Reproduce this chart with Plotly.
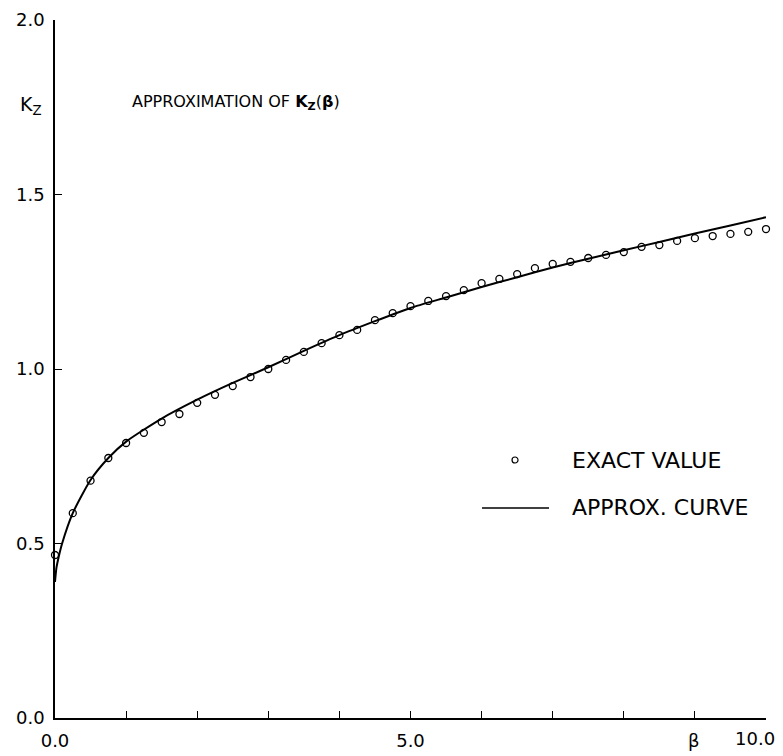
import plotly.graph_objects as go

# Exact values of K_Z(beta)
beta_exact = [0.0, 0.25, 0.5, 0.75, 1.0, 1.25, 1.5, 1.75, 2.0, 2.25, 2.5, 2.75, 3.0, 3.25,
              3.5, 3.75, 4.0, 4.25, 4.5, 4.75, 5.0, 5.25, 5.5, 5.75, 6.0, 6.25, 6.5, 6.75,
              7.0, 7.25, 7.5, 7.75, 8.0, 8.25, 8.5, 8.75, 9.0, 9.25, 9.5, 9.75, 10.0]
kz_exact = [0.467, 0.587, 0.680, 0.745, 0.788, 0.817, 0.848, 0.871, 0.903, 0.926, 0.951,
            0.977, 1.000, 1.026, 1.049, 1.074, 1.097, 1.112, 1.140, 1.160, 1.180, 1.195,
            1.209, 1.226, 1.246, 1.258, 1.272, 1.289, 1.301, 1.307, 1.318, 1.327, 1.335,
            1.350, 1.355, 1.367, 1.375, 1.381, 1.387, 1.393, 1.401]

# Approximation curve
beta_curve = [0.0, 0.02, 0.05, 0.1, 0.25, 0.5, 0.75, 1.0, 1.5, 2.0, 2.5, 3.0, 3.5, 4.0,
              4.5, 5.0, 5.5, 6.0, 6.5, 7.0, 7.5, 8.0, 8.5, 9.0, 9.5, 10.0]
kz_curve = [0.39, 0.43, 0.46, 0.50, 0.587, 0.682, 0.745, 0.792, 0.858, 0.912, 0.960, 1.005,
            1.052, 1.097, 1.137, 1.175, 1.205, 1.235, 1.263, 1.291, 1.316, 1.340, 1.364,
            1.388, 1.411, 1.435]

x_tickvals = [0, 5]
x_ticktext = ["0.0", "5.0"]
y_tickvals = [0.0, 0.5, 1.0, 1.5, 2.0]
y_ticktext = ["0.0", "0.5", "1.0", "1.5", "2.0"]

FONT = "DejaVu Sans"

fig = go.Figure()
fig.add_trace(go.Scatter(x=beta_curve, y=kz_curve, mode="lines",
                         line=dict(color="black", width=2, shape="spline", smoothing=0.6),
                         cliponaxis=False, showlegend=False, hoverinfo="skip"))
fig.add_trace(go.Scatter(x=beta_exact, y=kz_exact, mode="markers",
                         marker=dict(symbol="circle-open", size=7, color="black",
                                     line=dict(width=1.3, color="black")),
                         cliponaxis=False, showlegend=False))

fig.update_layout(
    width=775, height=748,
    margin=dict(l=47, r=17, t=12, b=38, autoexpand=False),
    paper_bgcolor="white", plot_bgcolor="white",
    font=dict(family=FONT, color="black", size=18),
    xaxis=dict(range=[0, 10], showgrid=False, zeroline=False, showline=True,
               linecolor="black", linewidth=1.5, ticks="inside", ticklen=7,
               tickwidth=1.3, tickcolor="black", tickvals=x_tickvals,
               ticktext=x_ticktext, ticklabelstandoff=6, automargin=False,
               minor=dict(tick0=0, dtick=1, ticks="inside", ticklen=7, tickwidth=1.3,
                          tickcolor="black", showgrid=False),
               tickfont=dict(family=FONT, size=18)),
    yaxis=dict(range=[0, 2.0], showgrid=False, zeroline=False, showline=True,
               linecolor="black", linewidth=1.5, ticks="inside", ticklen=7,
               tickwidth=1.3, tickcolor="black", tickvals=y_tickvals,
               ticktext=y_ticktext, ticklabelstandoff=5, automargin=False,
               tickfont=dict(family=FONT, size=18)),
)

# Axis labels and title text
fig.add_annotation(xref="paper", yref="paper", x=-0.052, y=0.878, xanchor="left",
                   yanchor="middle", showarrow=False,
                   text="K<sub>Z</sub>", font=dict(family=FONT, size=19))
fig.add_annotation(xref="paper", yref="paper", x=0.8987, y=0, xanchor="center",
                   yanchor="top", yshift=-10, showarrow=False,
                   text="β", font=dict(family=FONT, size=18))
fig.add_annotation(xref="paper", yref="paper", x=0.984, y=0, xanchor="center",
                   yanchor="top", yshift=-8, showarrow=False,
                   text="10.0", font=dict(family=FONT, size=18))
fig.add_annotation(xref="paper", yref="paper", x=0.105, y=0.8825, xanchor="left",
                   yanchor="middle", showarrow=False,
                   text="APPROXIMATION OF <b>K<sub>Z</sub></b>(<b>β</b>)",
                   font=dict(family=FONT, size=16))

# Manual legend
fig.add_shape(type="circle", xref="paper", yref="paper", xsizemode="pixel",
              ysizemode="pixel", xanchor=0.647, yanchor=0.3696,
              x0=-3, x1=3, y0=-3, y1=3, line=dict(color="black", width=1.2))
fig.add_annotation(xref="paper", yref="paper", x=0.7243, y=0.3696, xanchor="left",
                   yanchor="middle", showarrow=False, text="EXACT VALUE",
                   font=dict(family=FONT, size=22))
fig.add_shape(type="line", xref="paper", yref="paper", x0=0.6006, x1=0.6948,
              y0=0.3009, y1=0.3009, line=dict(color="black", width=1.5))
fig.add_annotation(xref="paper", yref="paper", x=0.7243, y=0.3009, xanchor="left",
                   yanchor="middle", showarrow=False, text="APPROX. CURVE",
                   font=dict(family=FONT, size=22))

fig.write_html("out.html")
